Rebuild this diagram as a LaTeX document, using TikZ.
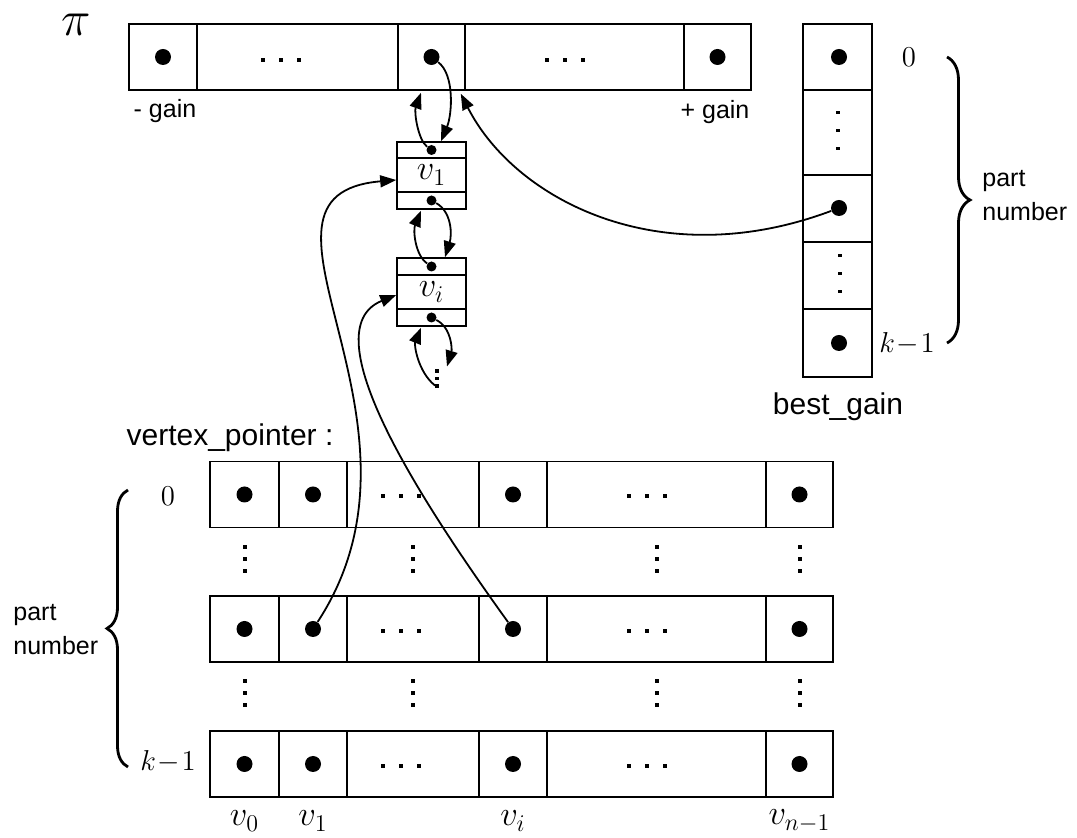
\documentclass[tikz,border=0pt]{standalone}
\usepackage{fontspec}
\setsansfont{Liberation Sans}
\usetikzlibrary{arrows.meta,calc,decorations.pathreplacing}
\tikzset{
  cell/.style={draw, line width=0.8pt, inner sep=0pt, minimum height=33pt},
  bigdot/.style={circle, fill, inner sep=0pt, minimum size=8pt},
  smalldot/.style={circle, fill, inner sep=0pt, minimum size=5pt},
  parrow/.style={-{Triangle[length=8pt,width=6pt]}, line width=0.9pt},
  sflabel/.style={font=\sffamily\fontsize{12.5}{17}\selectfont, inner sep=0pt},
  sfbig/.style={font=\sffamily\fontsize{15}{18}\selectfont, inner sep=0pt},
  mlabel/.style={font=\fontsize{15}{18}\selectfont, inner sep=0pt},
  vlabel/.style={font=\fontsize{16.5}{18}\selectfont, inner sep=0pt},
  pbrace/.style={decorate, decoration={brace, amplitude=#1}, line width=1.4pt}
}
% three small dots, across and down
\newcommand{\hdotrow}[2]{\foreach \dx in {-18,0,18} \fill ({#1+\dx-2},{#2-2}) rectangle ++(4,4);}
\newcommand{\vdotcol}[3]{\foreach \dy in {-#3,0,#3} \fill ({#1-1.7},{#2+\dy-1.7}) rectangle ++(3.4,3.4);}

\begin{document}
\begin{tikzpicture}[x=0.5pt, y=-0.5pt]
  \useasboundingbox (0,0) rectangle (1077,838);

  % gain buckets
  \node[font=\fontsize{25}{25}\selectfont, inner sep=0pt] (pi) at (76,25) {$\pi$};
  \node[cell, minimum width=34pt] (tb0) at (163,57) {};
  \node[cell, minimum width=100.5pt] (tb1) at (297.5,57) {};
  \node[cell, minimum width=33.5pt] (tb2) at (431.5,57) {};
  \node[cell, minimum width=109.5pt] (tb3) at (574.5,57) {};
  \node[cell, minimum width=33.5pt] (tb4) at (717.5,57) {};
  \node[bigdot] (tb0d) at (tb0) {};
  \node[bigdot] (tb2d) at (tb2) {};
  \node[bigdot] (tb4d) at (tb4) {};
  \hdotrow{281}{60}
  \hdotrow{565}{60}
  \node[sflabel] (mgain) at (165,111) {- gain};
  \node[sflabel] (pgain) at (715,112) {+ gain};

  % vertex list
  \node[cell, minimum width=34.5pt, minimum height=8pt] (l1t) at (431.5,150) {};
  \node[cell, minimum width=34.5pt, minimum height=17pt, vlabel] (l1m) at (431.5,175) {$v_1$};
  \node[cell, minimum width=34.5pt, minimum height=8.5pt] (l1b) at (431.5,200.5) {};
  \node[cell, minimum width=34.5pt, minimum height=8.5pt] (lit) at (431.5,266.5) {};
  \node[cell, minimum width=34.5pt, minimum height=17pt, vlabel] (lim) at (431.5,292) {$v_i$};
  \node[cell, minimum width=34.5pt, minimum height=8.5pt] (lib) at (431.5,317.5) {};
  \node[smalldot] (l1td) at (l1t) {};
  \node[smalldot] (l1bd) at (l1b) {};
  \node[smalldot] (litd) at (lit) {};
  \node[smalldot] (libd) at (lib) {};
  \coordinate (etc) at (437,378.5);
  \vdotcol{437}{378.5}{7.5}

  % best gain column
  \node[cell, minimum width=34.5pt, minimum height=33pt] (bg0) at (837.5,57) {};
  \node[cell, minimum width=34.5pt, minimum height=42.5pt] (bg1) at (837.5,132.5) {};
  \node[cell, minimum width=34.5pt, minimum height=33.5pt] (bg2) at (837.5,208.5) {};
  \node[cell, minimum width=34.5pt, minimum height=33.5pt] (bg3) at (837.5,275.5) {};
  \node[cell, minimum width=34.5pt, minimum height=34pt] (bg4) at (837.5,343) {};
  \node[bigdot] (bg0d) at (839,57) {};
  \node[bigdot] (bg2d) at (839,208) {};
  \node[bigdot] (bg4d) at (839,343) {};
  \vdotcol{838}{130.5}{18}
  \vdotcol{840}{273.5}{18}
  \node[mlabel] (bgz) at (909,57) {$0$};
  \node[mlabel] (bgk) at (907,344) {$k\!-\!1$};
  \draw[pbrace=11.5pt] (947,57) -- (947,343);
  \node[sflabel, align=left, anchor=west] (pnr) at (982,196) {part\\number};
  \node[sfbig] (bgname) at (838,407) {best\_gain};

  % vertex pointer table
  \node[sfbig] (vpname) at (230,438) {vertex\_pointer :};
  \foreach \r/\y in {a/494.5, b/629, c/764} {
    \node[cell, minimum width=34.5pt] (\r0) at (244.5,\y) {};
    \node[cell, minimum width=34pt] (\r1) at (313,\y) {};
    \node[cell, minimum width=66pt] (\r2) at (413,\y) {};
    \node[cell, minimum width=34pt] (\r3) at (513,\y) {};
    \node[cell, minimum width=109.5pt] (\r4) at (656.5,\y) {};
    \node[cell, minimum width=33.5pt] (\r5) at (799.5,\y) {};
    \node[bigdot] (\r0d) at (\r0) {};
    \node[bigdot] (\r1d) at (\r1) {};
    \node[bigdot] (\r3d) at (\r3) {};
    \node[bigdot] (\r5d) at (\r5) {};
    \hdotrow{401}{\y+2}
    \hdotrow{647}{\y+2}
  }
  \foreach \x in {245,413,657,800} {
    \vdotcol{\x}{559}{12}
    \vdotcol{\x}{693}{12}
  }
  \node[mlabel] (tz) at (168,496) {$0$};
  \node[mlabel] (tk) at (168,762) {$k\!-\!1$};
  \draw[pbrace=10.5pt] (128,767) -- (128,490);
  \node[sflabel, align=left, anchor=west] (pnl) at (13,630) {part\\number};
  \node[vlabel] (c0) at (244.5,821) {$v_0$};
  \node[vlabel] (c1) at (313,821) {$v_1$};
  \node[vlabel] (ci) at (513,821) {$v_i$};
  \node[vlabel] (cn) at (799.5,821) {$v_{n-1}$};

  % pointers
  \draw[parrow] (tb2d) .. controls (455,75) and (452,115) .. ($(l1t.north)+(9.5,0)$);
  \draw[parrow] (l1td) .. controls (418,140) and (414,112) .. ($(tb2.south)+(-10.5,2)$);
  \draw[parrow] (bg2d) .. controls (660,275) and (515,200) .. ($(tb2.south east)+(-5,3)$);
  \draw[parrow] (l1bd) .. controls (452,212) and (452,235) .. ($(lit.north)+(13.5,0)$);
  \draw[parrow] (litd) .. controls (415,255) and (413,230) .. ($(l1b.south)+(-10.5,1)$);
  \draw[parrow] (libd) .. controls (452,328) and (452,350) .. ($(etc)+(10,-12)$);
  \draw[parrow] ($(etc)+(-2,7)$) .. controls (418,372) and (414,345) .. ($(lib.south)+(-10.5,1)$);
  \draw[parrow] (b1d) .. controls (450,420) and (220,195) .. ($(l1m.west)+(0,5)$);
  \draw[parrow] (b3d) .. controls (420,500) and (310,330) .. ($(lim.west)+(0,3)$);
\end{tikzpicture}
\end{document}
